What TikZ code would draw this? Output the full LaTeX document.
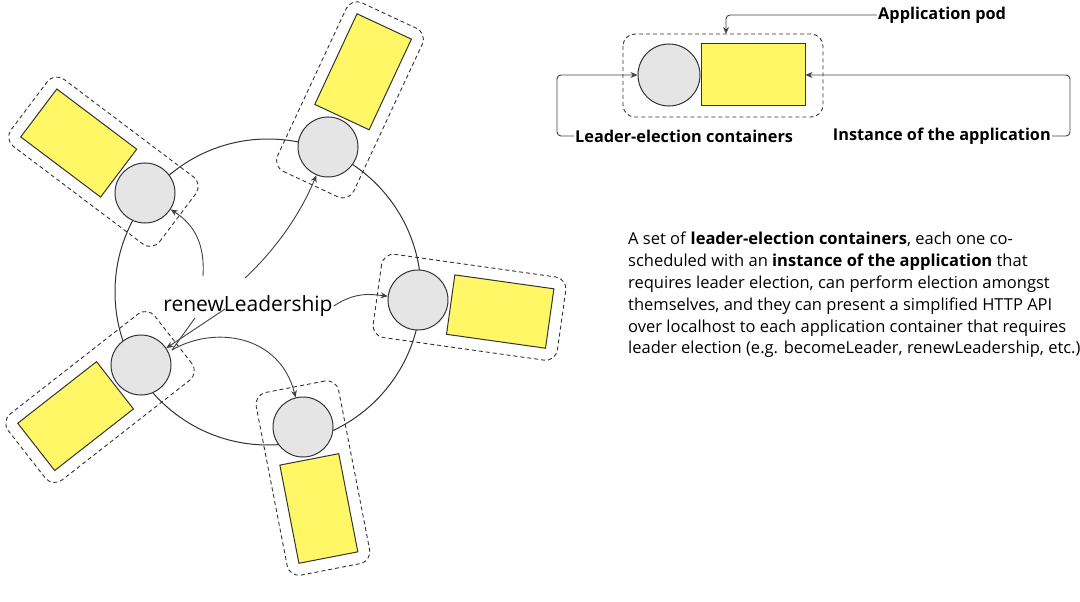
\documentclass[tikz,border=0pt]{standalone}
\usepackage{fontspec}
\setmainfont{Open Sans}
\usetikzlibrary{arrows.meta}
\begin{document}
\begin{tikzpicture}[x=1pt,y=-1pt,
  cont/.style={draw=black!80,fill=black!10,line width=1pt},
  app/.style={draw=black!80,fill=yellow!60!white,line width=1pt},
  podbox/.style={draw=black!80,dash pattern=on 4pt off 3pt,line width=0.9pt,rounded corners=12pt},
  arr/.style={-{Stealth[length=7pt,width=6pt]},draw=black!75,line width=0.9pt},
  lbl/.style={font=\bfseries\fontsize{16.3}{18}\selectfont,inner sep=1pt}]
\useasboundingbox (0,0) rectangle (1080,602);
\draw[draw=black!80,line width=1pt] (268,292) circle[radius=153];
\newcommand{\mypod}[4]{%
  \begin{scope}[shift={(#1,#2)},rotate=#3]
    \draw[podbox] (-41,-42) rectangle (145,42);
    \draw[app] (33,-30) rectangle (133,30);
    \node[cont,circle,minimum size=60pt,inner sep=0pt] (#4) at (0,0) {};
  \end{scope}}
\mypod{145}{193}{143}{p1}
\mypod{328}{147}{65}{p2}
\mypod{418}{300}{-8}{p3}
\mypod{303}{427}{-79}{p4}
\mypod{141}{365}{-142}{p5}
\node[font=\fontsize{21}{24}\selectfont,inner sep=1pt] (rl) at (248,306) {renewLeadership};
\draw[arr] (203,276) .. controls (205,245) and (195,225) .. (p1);
\draw[arr] (245,278) .. controls (275,250) and (300,215) .. (p2);
\draw[arr] (rl.east) .. controls (355,292) and (370,294) .. (p3);
\draw[draw=black!75,line width=0.9pt] (195,318) -- (172,350);
\draw[arr] (225,309) -- (p5);
\draw[arr] (172,350) .. controls (215,325) and (280,335) .. (p4);
% legend
\draw[podbox] (623,34) rectangle (823,117);
\node[cont,circle,minimum size=62pt,inner sep=0pt] (lc) at (669,75) {};
\node[app,minimum width=104pt,minimum height=62pt,inner sep=0pt] (la) at (753,75) {};
\node[lbl,anchor=west] (lp) at (877,15) {Application pod};
\node[lbl,anchor=west] (ll) at (574,136) {Leader-election containers};
\node[lbl,anchor=east] (li) at (1052,136) {Instance of the application};
\draw[arr,rounded corners=4pt] (lp.west) -- (726,15) -- (726,34);
\draw[arr,rounded corners=4pt] (ll.west) -- (557,136) -- (557,75) -- (lc.west);
\draw[arr,rounded corners=4pt] (li.east) -- (1070,136) -- (1070,75) -- (la.east);
\node[anchor=north west,align=left,font=\fontsize{16.5}{21.8}\selectfont,inner sep=0pt] (tx) at (628,232) {A set of \textbf{leader-election containers}, each one co-\\scheduled with an \textbf{instance of the application} that\\requires leader election, can perform election amongst\\themselves, and they can present a simplified HTTP API\\over localhost to each application container that requires\\leader election (e.g. becomeLeader, renewLeadership, etc.)};
\end{tikzpicture}
\end{document}
